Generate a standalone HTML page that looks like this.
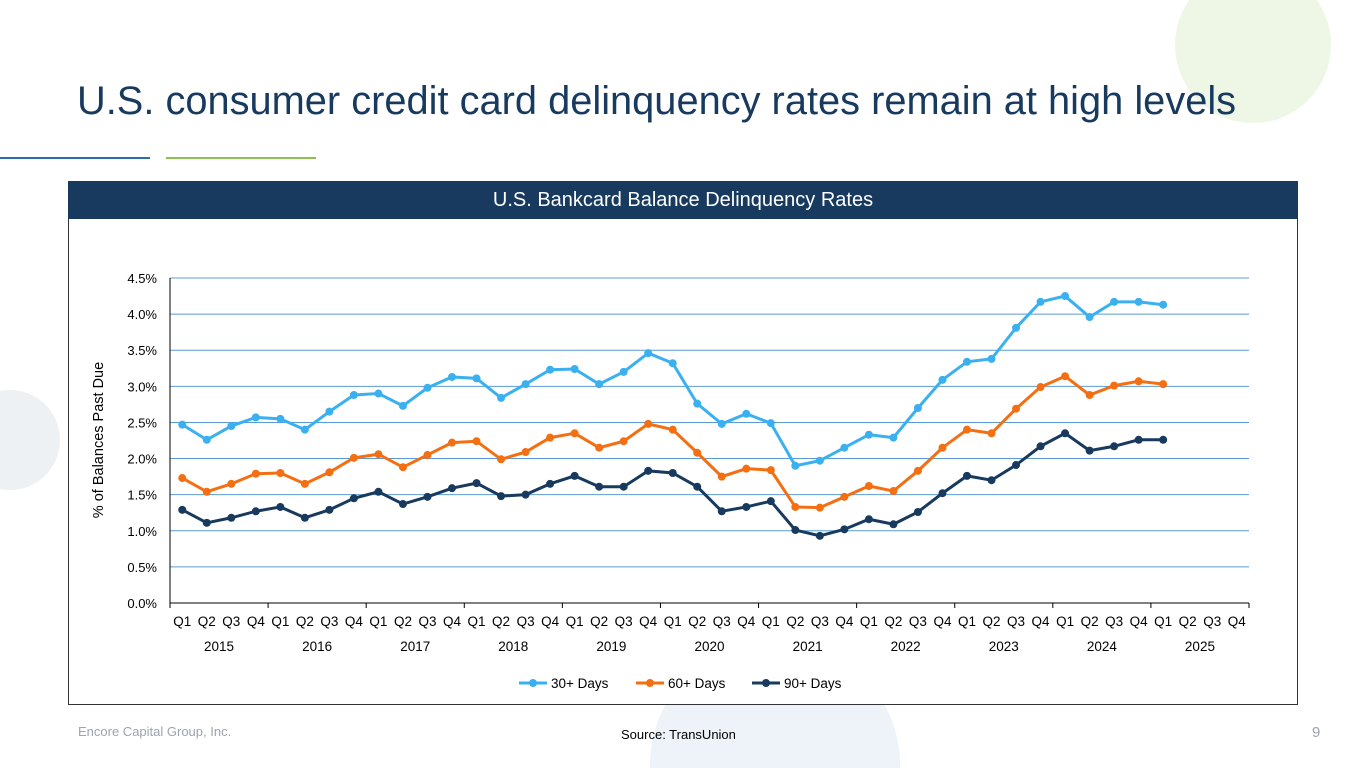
<!DOCTYPE html>
<html style="overflow:hidden;width:1365px;height:768px"><head><meta charset="utf-8"><style>
html,body{margin:0;width:1365px;height:768px;overflow:hidden}
body{background:#fff;font-family:"Liberation Sans",sans-serif;position:relative}
.abs{position:absolute}
</style></head><body>
<div class="abs" style="left:1175px;top:-33px;width:156px;height:156px;border-radius:50%;background:#eef6e6"></div>
<div class="abs" style="left:-40px;top:390px;width:100px;height:100px;border-radius:50%;background:#eef1f4"></div>
<div class="abs" style="left:650px;top:640px;width:250px;height:128px;border-radius:125px 125px 0 0;background:#edf3f9"></div>
<div class="abs" style="left:77px;top:79px;font-size:39.8px;color:#173a5e;white-space:nowrap">U.S. consumer credit card delinquency rates remain at high levels</div>
<div class="abs" style="left:0;top:157px;width:150px;height:2px;background:#2a6fa8"></div>
<div class="abs" style="left:166px;top:157px;width:150px;height:2px;background:#8cc152"></div>
<div class="abs" style="left:68px;top:181px;width:1228px;height:522px;border:1px solid #333;background:#fff"></div>
<div class="abs" style="left:68px;top:181px;width:1230px;height:38px;background:#173a5e;color:#fff;font-size:20px;text-align:center;line-height:38px">U.S. Bankcard Balance Delinquency Rates</div>
<svg class="abs" style="left:0;top:0" width="1365" height="768" id="chart"></svg>
<div class="abs" style="left:78px;top:724px;font-size:13px;color:#9aa5b1">Encore Capital Group, Inc.</div>
<div class="abs" style="left:621px;top:727px;font-size:13px;color:#000">Source: TransUnion</div>
<div class="abs" style="left:1312px;top:724px;font-size:15px;color:#9aa5b1">9</div>
<script>
const years=["2015","2016","2017","2018","2019","2020","2021","2022","2023","2024","2025"];
const quarters=["Q1","Q2","Q3","Q4"];
const yTicks=[0,0.5,1,1.5,2,2.5,3,3.5,4,4.5];
const s30=[2.47,2.26,2.45,2.57,2.55,2.40,2.65,2.88,2.90,2.73,2.98,3.13,3.11,2.84,3.03,3.23,3.24,3.03,3.20,3.46,3.32,2.76,2.48,2.62,2.49,1.90,1.97,2.15,2.33,2.29,2.70,3.09,3.34,3.38,3.81,4.17,4.25,3.96,4.17,4.17,4.13];
const s60=[1.73,1.54,1.65,1.79,1.80,1.65,1.81,2.01,2.06,1.88,2.05,2.22,2.24,1.99,2.09,2.29,2.35,2.15,2.24,2.48,2.40,2.08,1.75,1.86,1.84,1.33,1.32,1.47,1.62,1.55,1.83,2.15,2.40,2.35,2.69,2.99,3.14,2.88,3.01,3.07,3.03];
const s90=[1.29,1.11,1.18,1.27,1.33,1.18,1.29,1.45,1.54,1.37,1.47,1.59,1.66,1.48,1.50,1.65,1.76,1.61,1.61,1.83,1.80,1.61,1.27,1.33,1.41,1.01,0.93,1.02,1.16,1.09,1.26,1.52,1.76,1.70,1.91,2.17,2.35,2.11,2.17,2.26,2.26];
const seriesNames=["30+ Days","60+ Days","90+ Days"];
const NS="http://www.w3.org/2000/svg",svg=document.getElementById('chart');
const X0=170,X1=1249,Y0=603,YT=278,N=years.length*4,step=(X1-X0)/N;
const xAt=i=>X0+step*(i+0.5), yAt=v=>Y0-(v/4.5)*(Y0-YT);
function mk(t,a,txt){const e=document.createElementNS(NS,t);for(const k in a)e.setAttribute(k,a[k]);if(txt!=null)e.textContent=txt;svg.appendChild(e);return e;}
yTicks.forEach(v=>{
 const g=mk('line',{x1:X0,x2:X1,y1:yAt(v),y2:yAt(v),stroke:v===0?'#000':'#5b9bd5','stroke-width':1});
 
 const t=mk('text',{x:157,y:yAt(v)+5,'text-anchor':'end','font-size':13,fill:'#000'},v.toFixed(1)+'%');
 
});
const ax=mk('line',{x1:X0,x2:X0,y1:YT,y2:Y0,stroke:'#000'});

for(let i=0;i<=years.length;i++){const x=X0+i*4*step;const l=mk('line',{x1:x,x2:x,y1:Y0,y2:Y0+5,stroke:'#000'});}
for(let i=0;i<N;i++){const t=mk('text',{x:xAt(i),y:626,'text-anchor':'middle','font-size':13.5,fill:'#000'},quarters[i%4]);}
years.forEach((y,i)=>{const t=mk('text',{x:X0+(i*4+2)*step,y:651,'text-anchor':'middle','font-size':13.5,fill:'#000'},y);});
const yt=mk('text',{x:0,y:0,transform:'translate(103,440) rotate(-90)','text-anchor':'middle','font-size':14.5,fill:'#000'},'% of Balances Past Due');

const colors=['#3bb0f0','#f36f12','#173a5e'];
[s30,s60,s90].forEach((s,k)=>{
 const p=mk('polyline',{points:s.map((v,i)=>xAt(i)+','+yAt(v)).join(' '),fill:'none',stroke:colors[k],'stroke-width':3});
 
 s.forEach((v,i)=>{const c=mk('circle',{cx:xAt(i),cy:yAt(v),r:4,fill:colors[k]});});
});
const lx=[519,636,752];
seriesNames.forEach((n,k)=>{
 const l=mk('line',{x1:lx[k],x2:lx[k]+28,y1:683,y2:683,stroke:colors[k],'stroke-width':3});
 const c=mk('circle',{cx:lx[k]+14,cy:683,r:4,fill:colors[k]});
 const t=mk('text',{x:lx[k]+32,y:688,'font-size':13.5,fill:'#000'},n);
});
</script>
</body></html>
